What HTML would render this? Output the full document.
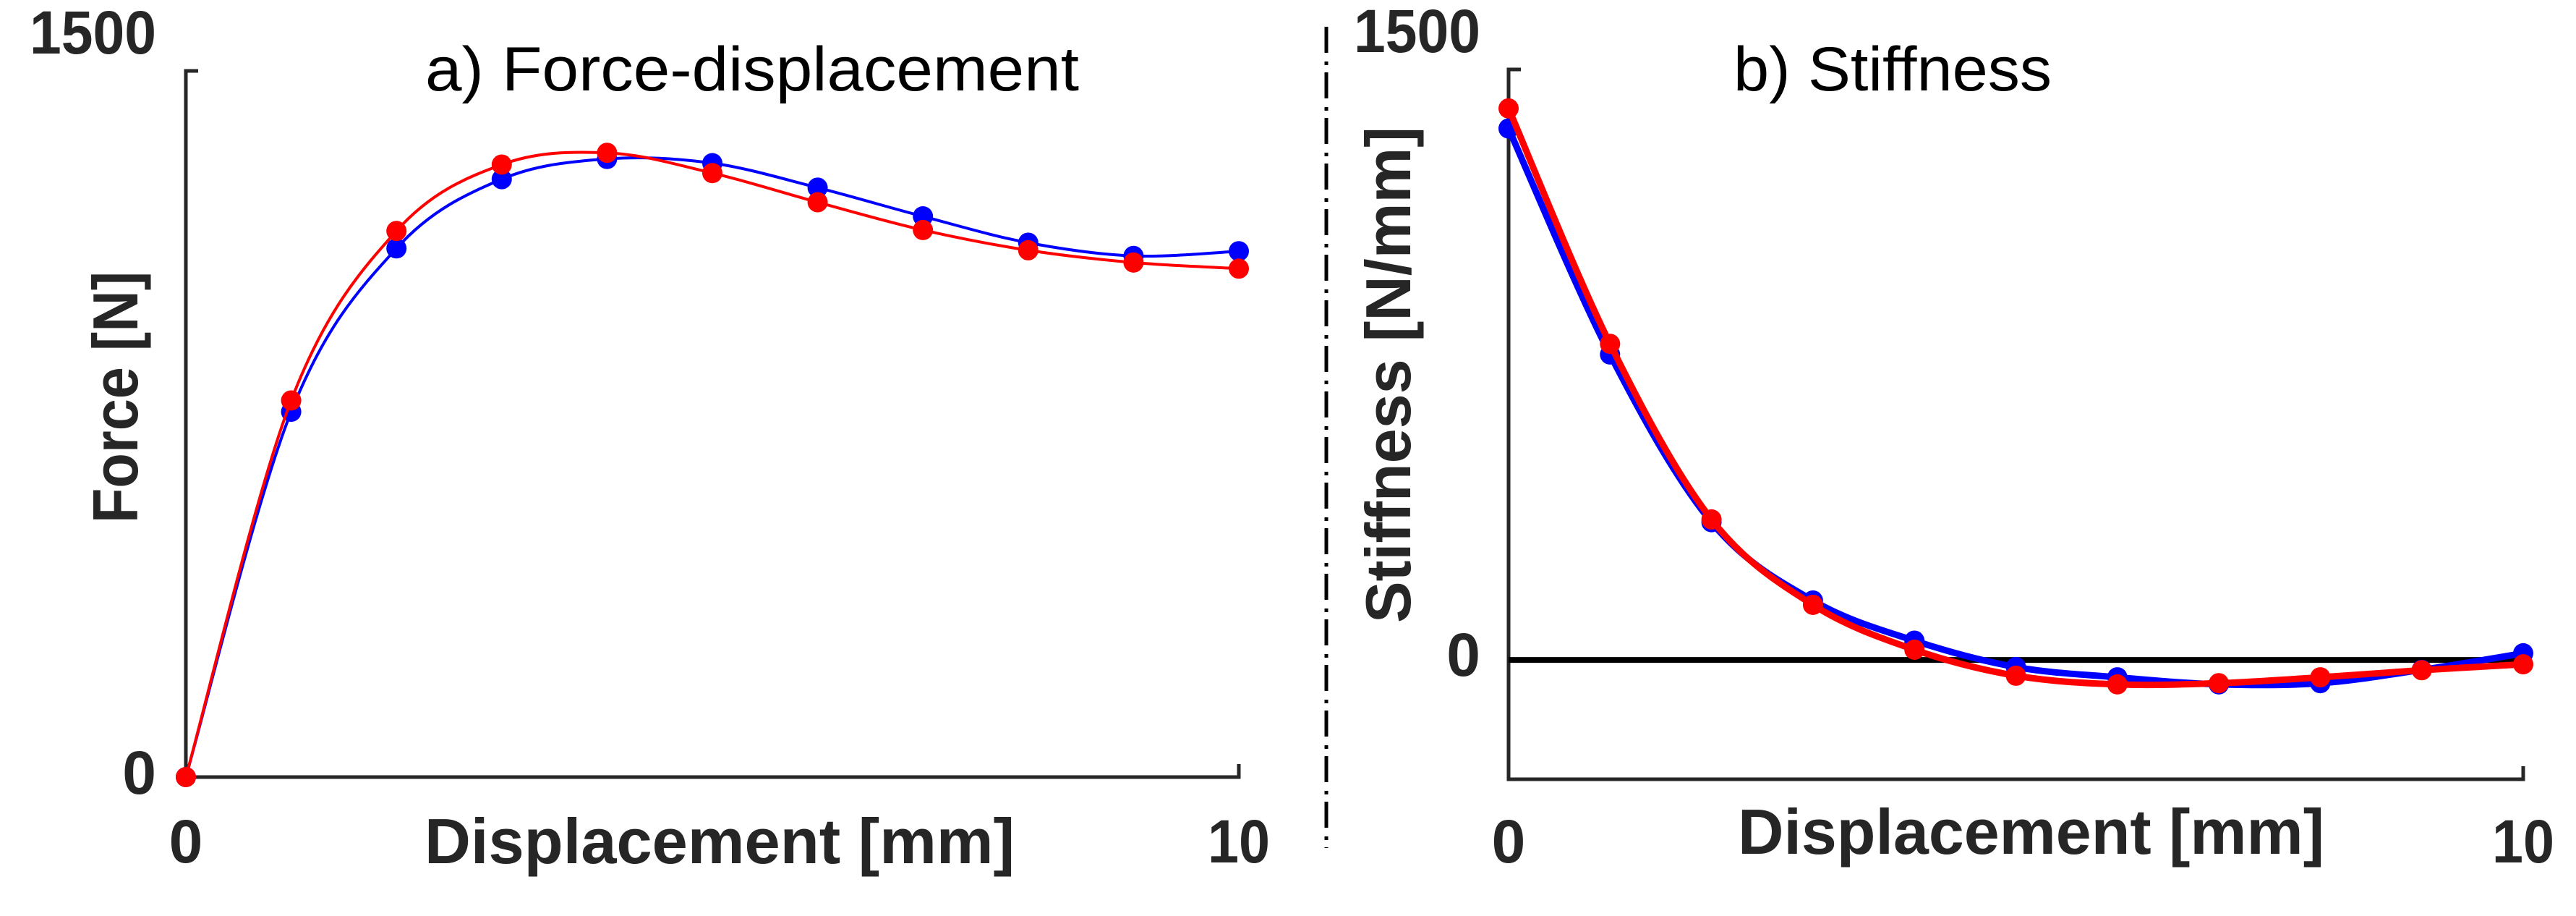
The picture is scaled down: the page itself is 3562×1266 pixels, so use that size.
<!DOCTYPE html>
<html><head><meta charset="utf-8"><style>
html,body{margin:0;padding:0;background:#fff;}
svg{display:block;}
text{font-family:"Liberation Sans",sans-serif;fill:#262626;}
</style></head><body>
<svg id="fig" width="3562" height="1266" viewBox="0 0 3562 1266">
  <g id="chartA"></g>
  <g id="chartB"></g>
  <line x1="1834" y1="37" x2="1834" y2="1172" stroke="#000" stroke-width="5" stroke-dasharray="36,12,5,10"/>
  <text x="588" y="125" font-size="86" textLength="904" lengthAdjust="spacingAndGlyphs" style="fill:#000">a) Force-displacement</text>
  <text x="2397" y="125" font-size="86" textLength="440" lengthAdjust="spacingAndGlyphs" style="fill:#000">b) Stiffness</text>
  <text x="587" y="1193" font-size="88" font-weight="bold" textLength="816" lengthAdjust="spacingAndGlyphs">Displacement [mm]</text>
  <text x="2403" y="1180" font-size="88" font-weight="bold" textLength="811" lengthAdjust="spacingAndGlyphs">Displacement [mm]</text>
  <text transform="translate(190,549) rotate(-90)" text-anchor="middle" font-size="88" font-weight="bold" textLength="348" lengthAdjust="spacingAndGlyphs">Force [N]</text>
  <text transform="translate(1950,518) rotate(-90)" text-anchor="middle" font-size="88" font-weight="bold" textLength="686" lengthAdjust="spacingAndGlyphs">Stiffness [N/mm]</text>
</svg>
<script>
const xCats = [0,1,2,3,4,5,6,7,8,9,10];
const forceBlue = [0,776,1123,1270,1313,1304,1252,1191,1135,1107,1117];
const forceRed  = [0,800,1160,1301,1326,1283,1221,1162,1119,1093,1080];
const stiffBlue = [1350,776,350,151,49,-18,-44,-62,-59,-25,17];
const stiffRed  = [1401,803,357,140,26,-40,-62,-59,-44,-26,-11];
const xTicksA = ["0","10"];
const yTicksA = ["0","1500"];
const yTicksB = ["0","1500"];

const NS = "http://www.w3.org/2000/svg";
function mk(parent, tag, attrs){
  const e = document.createElementNS(NS, tag);
  for (const k in attrs) e.setAttribute(k, attrs[k]);
  parent.appendChild(e);
  return e;
}
function smoothPath(pts){
  let d = "M"+pts[0][0]+","+pts[0][1];
  for (let i=0;i<pts.length-1;i++){
    const p0=pts[Math.max(i-1,0)], p1=pts[i], p2=pts[i+1], p3=pts[Math.min(i+2,pts.length-1)];
    const c1=[p1[0]+(p2[0]-p0[0])/6, p1[1]+(p2[1]-p0[1])/6];
    const c2=[p2[0]-(p3[0]-p1[0])/6, p2[1]-(p3[1]-p1[1])/6];
    d += " C"+c1[0]+","+c1[1]+" "+c2[0]+","+c2[1]+" "+p2[0]+","+p2[1];
  }
  return d;
}
function drawChart(g, cfg){
  const sx = v => cfg.x0 + (v - 0)/(10 - 0)*(cfg.x1 - cfg.x0);
  const sy = v => cfg.yBase - (v - cfg.ymin)/(cfg.ymax - cfg.ymin)*(cfg.yBase - cfg.yTop);
  const ax = mk(g,"path",{d:"M"+(cfg.x0+17)+","+cfg.yTop+" H"+cfg.x0+" V"+cfg.yBase+" H"+cfg.x1+" V"+(cfg.yBase-18),fill:"none",stroke:"#262626","stroke-width":5});
  
  
  if (cfg.zeroLine){
    const zl = mk(g,"line",{x1:cfg.x0,x2:cfg.x1,y1:sy(0),y2:sy(0),stroke:"#000","stroke-width":8});
    
    
  }
  cfg.yTicks.forEach(t=>{
    const v = parseFloat(t);
    const tx = mk(g,"text",{x:cfg.yLabelX,y:sy(v)+(v===0?(cfg.zeroLine?22:23):-24),"text-anchor":"end","font-size":84,"font-weight":"bold"});
    tx.textContent = t;
    if (t.length>1){ tx.setAttribute("textLength", 175); tx.setAttribute("lengthAdjust","spacingAndGlyphs"); }
    
    
  });
  xTicksA.forEach(t=>{
    const v = parseFloat(t);
    const tx = mk(g,"text",{x:sx(v),y:1192,"text-anchor":"middle","font-size":84,"font-weight":"bold"});
    tx.textContent = t;
    if (t.length>1){ tx.setAttribute("textLength", 86); tx.setAttribute("lengthAdjust","spacingAndGlyphs"); }
    
    
  });
  cfg.series.forEach(s=>{
    const pts = xCats.map((x,i)=>[sx(x), sy(s.vals[i])]);
    const p = mk(g,"path",{d:smoothPath(pts),fill:"none",stroke:s.color,"stroke-width":cfg.lw,"stroke-linejoin":"round"});
    
    
    pts.forEach(pt=>{
      const c = mk(g,"circle",{cx:pt[0],cy:pt[1],r:cfg.r,fill:s.color});
      
      
    });
  });
}
drawChart(document.getElementById("chartA"), {
  prefix:"force", x0:257, x1:1713, yTop:98, yBase:1074, ymin:0, ymax:1500,
  yLabelX:216, yTicks:yTicksA, zeroLine:false, lw:4, r:14,
  series:[{name:"blue",color:"#0000ff",vals:forceBlue},{name:"red",color:"#ff0000",vals:forceRed}]
});
drawChart(document.getElementById("chartB"), {
  prefix:"stiffness", x0:2086, x1:3489, yTop:96, yBase:1077, ymin:-303, ymax:1500,
  yLabelX:2047, yTicks:yTicksB, zeroLine:true, lw:9, r:14,
  series:[{name:"blue",color:"#0000ff",vals:stiffBlue},{name:"red",color:"#ff0000",vals:stiffRed}]
});
</script>
</body></html>
